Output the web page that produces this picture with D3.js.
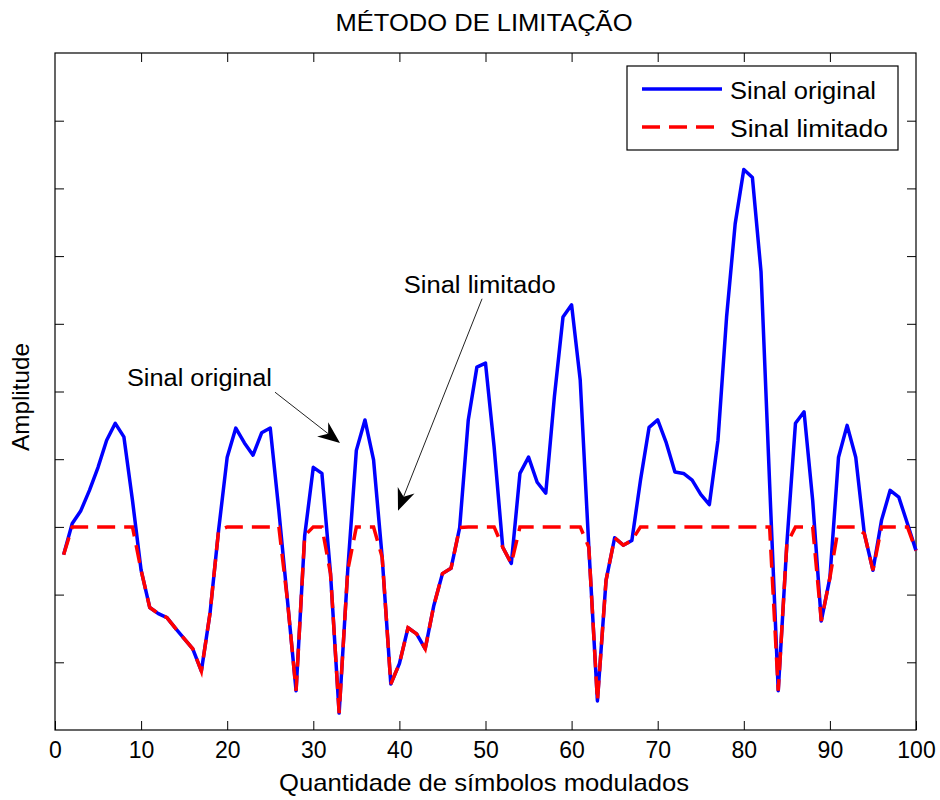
<!DOCTYPE html>
<html>
<head>
<meta charset="utf-8">
<script src="https://cdn.jsdelivr.net/npm/d3@7/dist/d3.min.js"></script>
<style>
  body { margin: 0; background: #fff; }
  text { font-family: "Liberation Sans", Arial, sans-serif; fill: #000; }
</style>
</head>
<body>
<div id="grafico"></div>
<script>
// dados (amostras 1..100)
const sinalOriginal = [
  2.59, 3.05, 3.24, 3.54, 3.88, 4.28, 4.53, 4.33, 3.39, 2.36,
  1.81, 1.72, 1.66, 1.50, 1.35, 1.20, 0.87, 1.72, 2.95, 4.03,
  4.46, 4.24, 4.06, 4.39, 4.46, 3.24, 1.91, 0.58, 2.87, 3.88,
  3.79, 2.31, 0.25, 2.36, 4.13, 4.58, 3.99, 2.55, 0.68, 0.98,
  1.51, 1.42, 1.20, 1.84, 2.31, 2.39, 2.99, 4.58, 5.36, 5.42,
  4.18, 2.70, 2.46, 3.79, 4.03, 3.66, 3.50, 4.92, 6.10, 6.28,
  5.17, 2.70, 0.43, 2.21, 2.84, 2.73, 2.80, 3.69, 4.47, 4.58,
  4.24, 3.81, 3.79, 3.69, 3.48, 3.33, 4.28, 6.10, 7.48, 8.28,
  8.16, 6.77, 3.64, 0.58, 2.75, 4.53, 4.70, 3.39, 1.61, 2.25,
  4.03, 4.50, 4.03, 2.90, 2.36, 3.10, 3.54, 3.44, 3.05, 2.65
];
const sinalLimitado = [
  2.59, 3.00, 3.00, 3.00, 3.00, 3.00, 3.00, 3.00, 3.00, 2.36,
  1.81, 1.72, 1.66, 1.50, 1.35, 1.20, 0.87, 1.72, 2.95, 3.00,
  3.00, 3.00, 3.00, 3.00, 3.00, 3.00, 1.91, 0.58, 2.87, 3.00,
  3.00, 2.31, 0.25, 2.36, 3.00, 3.00, 3.00, 2.55, 0.68, 0.98,
  1.51, 1.42, 1.20, 1.84, 2.31, 2.39, 2.99, 3.00, 3.00, 3.00,
  3.00, 2.70, 2.46, 3.00, 3.00, 3.00, 3.00, 3.00, 3.00, 3.00,
  3.00, 2.70, 0.43, 2.21, 2.84, 2.73, 2.80, 3.00, 3.00, 3.00,
  3.00, 3.00, 3.00, 3.00, 3.00, 3.00, 3.00, 3.00, 3.00, 3.00,
  3.00, 3.00, 3.00, 0.58, 2.75, 3.00, 3.00, 3.00, 1.61, 2.25,
  3.00, 3.00, 3.00, 2.90, 2.36, 3.00, 3.00, 3.00, 3.00, 2.65
];
const xTicks = [0, 10, 20, 30, 40, 50, 60, 70, 80, 90, 100];
const yTicks = [1, 2, 3, 4, 5, 6, 7, 8, 9];
const legendas = ["Sinal original", "Sinal limitado"];

// dimensões
const W = 940, H = 800;
const area = {left: 55, right: 916, top: 53, bottom: 730};
const azul = '#0000ff', vermelho = '#ff0000';

const svg = d3.select("#grafico").append("svg")
  .attr("width", W).attr("height", H);

const x = d3.scaleLinear().domain([0, 100]).range([area.left, area.right]);
const y = d3.scaleLinear().domain([0, 10]).range([area.bottom, area.top]);

// eixos (ticks para dentro, estilo matlab)
svg.append("g")
  .attr("transform", `translate(0,${area.bottom})`)
  .call(d3.axisBottom(x).tickValues(xTicks).tickSizeInner(-9).tickSizeOuter(0).tickPadding(12))
  .call(g => g.select(".domain").remove())
  .call(g => g.selectAll("text").style("font-family", "Liberation Sans, sans-serif").style("font-size", "23px"));
svg.append("g")
  .attr("transform", `translate(0,${area.top})`)
  .call(d3.axisTop(x).tickValues(xTicks.slice(1, -1)).tickSizeInner(-9).tickSizeOuter(0).tickFormat(""))
  .call(g => g.select(".domain").remove());
svg.append("g")
  .attr("transform", `translate(${area.left},0)`)
  .call(d3.axisLeft(y).tickValues(yTicks).tickSizeInner(-9).tickSizeOuter(0).tickFormat(""))
  .call(g => g.select(".domain").remove());
svg.append("g")
  .attr("transform", `translate(${area.right},0)`)
  .call(d3.axisRight(y).tickValues(yTicks).tickSizeInner(-9).tickSizeOuter(0).tickFormat(""))
  .call(g => g.select(".domain").remove());
svg.selectAll(".tick line").attr("stroke", "#000");

// moldura
svg.append("rect")
  .attr("x", area.left).attr("y", area.top)
  .attr("width", area.right - area.left).attr("height", area.bottom - area.top)
  .attr("fill", "none").attr("stroke", "#000").attr("stroke-width", 1.2);

// linhas
const linha = d3.line().x((d, i) => x(i + 1)).y(d => y(d));

svg.append("path").datum(sinalOriginal)
  .attr("d", linha).attr("fill", "none")
  .attr("stroke", azul).attr("stroke-width", 3.5).attr("stroke-linejoin", "round");
svg.append("path").datum(sinalLimitado)
  .attr("d", linha).attr("fill", "none")
  .attr("stroke", vermelho).attr("stroke-width", 3.5)
  .attr("stroke-dasharray", "18,9");

// títulos
svg.append("text").attr("x", 484).attr("y", 31).attr("text-anchor", "middle")
  .style("font-size", "23px").attr("textLength", 297).attr("lengthAdjust", "spacingAndGlyphs")
  .text("MÉTODO DE LIMITAÇÃO");
svg.append("text").attr("x", 484).attr("y", 791).attr("text-anchor", "middle")
  .style("font-size", "24px").attr("textLength", 410).attr("lengthAdjust", "spacingAndGlyphs")
  .text("Quantidade de símbolos modulados");
svg.append("text").attr("transform", "translate(29,397) rotate(-90)").attr("text-anchor", "middle")
  .style("font-size", "24px").attr("textLength", 108).attr("lengthAdjust", "spacingAndGlyphs")
  .text("Amplitude");

// anotações com setas
const setas = [
  {texto: "Sinal original", tx: 8.36, ty: 5.08, tl: 145, x0: 25.55, y0: 4.99, x1: 33.1, y1: 4.24},
  {texto: "Sinal limitado", tx: 40.5, ty: 6.46, tl: 152, x0: 49.6, y0: 6.37, x1: 39.84, y1: 3.24}
];
setas.forEach(s => {
  svg.append("text").attr("x", x(s.tx)).attr("y", y(s.ty))
    .style("font-size", "23px").attr("textLength", s.tl).attr("lengthAdjust", "spacingAndGlyphs")
    .text(s.texto);
  const ax = x(s.x0), ay = y(s.y0), bx = x(s.x1), by = y(s.y1);
  const ang = Math.atan2(by - ay, bx - ax);
  const L = 22, w = 9, notch = 15;
  const ux = Math.cos(ang), uy = Math.sin(ang);
  const px = -uy, py = ux;
  svg.append("line").attr("x1", ax).attr("y1", ay)
    .attr("x2", bx - ux * notch).attr("y2", by - uy * notch)
    .attr("stroke", "#222").attr("stroke-width", 1);
  const cabeca = [
    [bx, by],
    [bx - ux * L + px * w, by - uy * L + py * w],
    [bx - ux * notch, by - uy * notch],
    [bx - ux * L - px * w, by - uy * L - py * w]
  ];
  svg.append("path").attr("d", "M" + cabeca.map(p => p.join(",")).join("L") + "Z")
    .attr("fill", "#000");
});

// legenda
const leg = svg.append("g");
leg.append("rect").attr("x", 627).attr("y", 66).attr("width", 271).attr("height", 84)
  .attr("fill", "#fff").attr("stroke", "#000").attr("stroke-width", 1.2);
legendas.forEach((nome, i) => {
  const ly = 89 + i * 38;
  leg.append("line").attr("x1", 642).attr("x2", 722).attr("y1", ly).attr("y2", ly)
    .attr("stroke", i === 0 ? azul : vermelho).attr("stroke-width", 3.5)
    .attr("stroke-dasharray", i === 0 ? null : "18,9");
  leg.append("text").attr("x", 730).attr("y", ly + 10)
    .style("font-size", "23px").attr("textLength", i === 0 ? 146 : 158).attr("lengthAdjust", "spacingAndGlyphs")
    .text(nome);
});
</script>
</body>
</html>
